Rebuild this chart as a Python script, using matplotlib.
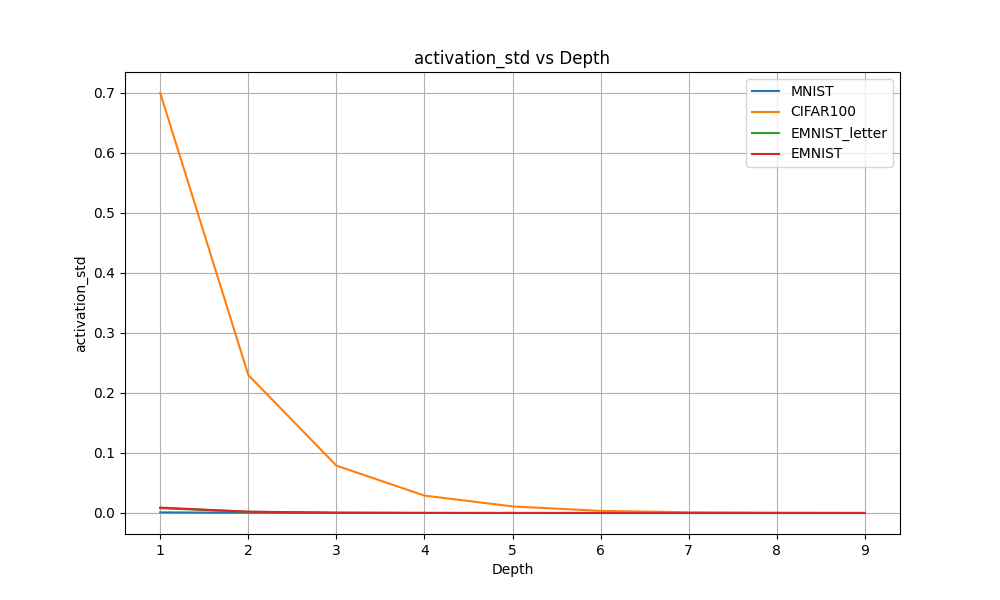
import matplotlib
matplotlib.use("Agg")
import matplotlib.pyplot as plt

depth = [1, 2, 3, 4, 5, 6, 7, 8, 9]
mnist = [0.001, 0.0005, 0.0001, 0.00003, 0.00001, 0.0, 0.0, 0.0, 0.0]
cifar100 = [0.70, 0.23, 0.079, 0.029, 0.011, 0.0035, 0.0012, 0.0004, 0.0001]
emnist_letter = [0.008, 0.002, 0.0004, 0.0001, 0.00003, 0.00001, 0.0, 0.0, 0.0]
emnist = [0.009, 0.0022, 0.0005, 0.0001, 0.00003, 0.00001, 0.0, 0.0, 0.0]

fig, ax = plt.subplots(figsize=(10, 6), dpi=100)
ax.plot(depth, mnist, label="MNIST")
ax.plot(depth, cifar100, label="CIFAR100")
ax.plot(depth, emnist_letter, label="EMNIST_letter")
ax.plot(depth, emnist, label="EMNIST")
ax.set_xlabel("Depth")
ax.set_ylabel("activation_std")
ax.set_title("activation_std vs Depth")
ax.grid(True)
ax.legend()
fig.savefig("out.png")
